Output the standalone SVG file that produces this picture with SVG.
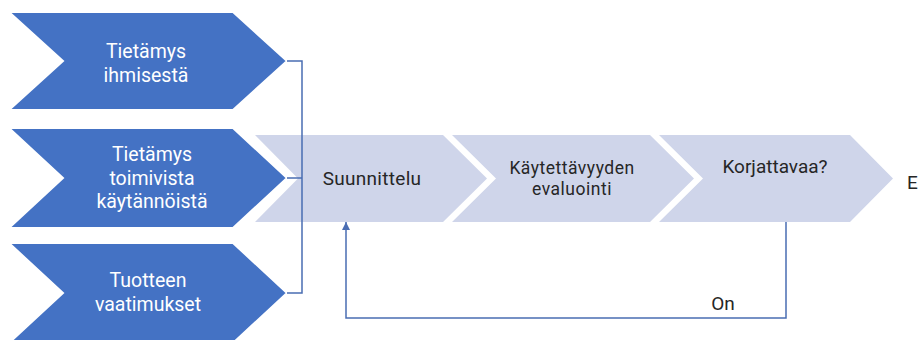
<svg xmlns="http://www.w3.org/2000/svg" width="920" height="340" viewBox="0 0 920 340">
  <defs>
    <style>
      .dark { fill: #4472C4; stroke: #ffffff; stroke-width: 2; stroke-linejoin: miter; }
      .light { fill: #CFD5EA; stroke: none; }
      .wt { font-family: Roboto, "Open Sans", sans-serif; font-size: 19.5px; fill: #ffffff; text-anchor: middle; }
      .dt { font-family: Roboto, "Open Sans", sans-serif; font-size: 19px; fill: #262626; text-anchor: middle; }
      .dts { font-family: Roboto, "Open Sans", sans-serif; font-size: 17.5px; letter-spacing: 0.5px; fill: #262626; text-anchor: middle; }
      .conn { fill: none; stroke: #4A6DB3; stroke-width: 1.5; }
    </style>
    <marker id="arrow" viewBox="0 0 10 10" refX="10" refY="5" markerWidth="8" markerHeight="8" markerUnits="userSpaceOnUse" orient="auto">
      <path d="M0,0 L10,5 L0,10 Z" fill="#4A6DB3"/>
    </marker>
  </defs>
  <rect width="920" height="340" fill="#ffffff"/>

  <g id="step-suunnittelu">
    <polygon class="light" points="255,135 443,135 487,178.5 443,222 255,222 298,178.5"/>
    <text class="dt" x="372" y="185" letter-spacing="0.3">Suunnittelu</text>
  </g>
  <g id="step-evaluointi">
    <polygon class="light" points="452,135 650,135 694,178.5 650,222 452,222 496,178.5"/>
    <text class="dts" x="572" y="174">Käytettävyyden</text>
    <text class="dts" x="572" y="194.5">evaluointi</text>
  </g>
  <g id="step-korjattavaa">
    <polygon class="light" points="659,135 850,135 893,178.5 850,222 659,222 703,178.5"/>
    <text class="dt" x="775" y="173">Korjattavaa?</text>
  </g>

  <g id="input-ihminen">
    <polygon class="dark" points="9,12 233,12 287,61 233,110 9,110 63,61"/>
    <text class="wt" x="146" y="58">Tietämys</text>
    <text class="wt" x="146" y="82">ihmisestä</text>
  </g>
  <g id="input-kaytannot">
    <polygon class="dark" points="9,128 233,128 287,178 233,228 9,228 63,178"/>
    <text class="wt" x="152" y="161">Tietämys</text>
    <text class="wt" x="152" y="184.5">toimivista</text>
    <text class="wt" x="152" y="208">käytännöistä</text>
  </g>
  <g id="input-vaatimukset">
    <polygon class="dark" points="9,243 233,243 287,293 233,343 9,343 63,293"/>
    <text class="wt" x="148" y="287">Tuotteen</text>
    <text class="wt" x="148" y="310.5">vaatimukset</text>
  </g>

  <g id="label-e">
    <text font-family="Roboto, Open Sans, sans-serif" font-size="19" fill="#262626" x="907" y="189">E</text>
  </g>

  <g id="connectors">
    <path class="conn" d="M287,61 H302 M287,178 H302 M287,293 H302 M302,60.25 V293.75"/>
    <path class="conn" d="M786,222 V318 H346 V222" marker-end="url(#arrow)"/>
    <text class="dt" x="723" y="310" font-size="20">On</text>
  </g>
</svg>
